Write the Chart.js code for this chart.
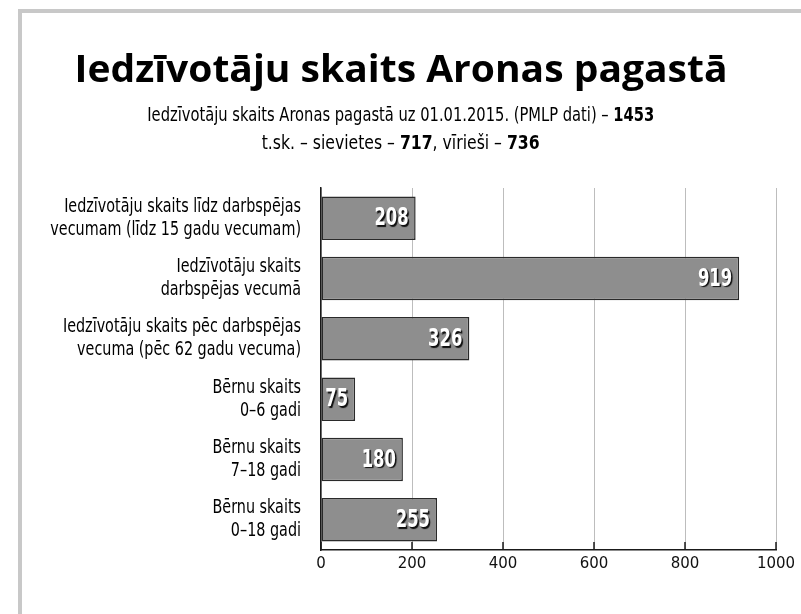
<!DOCTYPE html>
<html>
<head>
<meta charset="utf-8">
<script src="https://cdn.jsdelivr.net/npm/chart.js@4/dist/chart.umd.min.js"></script>
<style>
html,body{margin:0;padding:0;background:#fff;}
#wrap{position:relative;width:801px;height:614px;overflow:hidden;background:#fff;}
#frame{position:absolute;left:18px;top:9px;width:800px;height:620px;border-top:4px solid #c8c8c8;border-left:4px solid #c8c8c8;}
canvas{position:absolute;left:0;top:0;}
.line{position:absolute;left:0;width:801px;text-align:center;white-space:nowrap;color:#000;}
.line span.fit{display:inline-block;transform-origin:50% 50%;}
#title{top:48px;font-family:'Open Sans',sans-serif;font-weight:700;font-size:38px;line-height:38px;}
.sub{font-family:'DejaVu Sans Condensed','DejaVu Sans',sans-serif;font-size:19px;line-height:28px;}
#sub1{top:100px;}
#sub2{top:128px;}
.sub b{font-weight:700;}
</style>
</head>
<body>
<div id="wrap">
  <div id="frame"></div>
  <canvas id="c" width="801" height="614"></canvas>
  <div class="line" id="title"><span class="fit" data-w="653">Iedzīvotāju skaits Aronas pagastā</span></div>
  <div class="line sub" id="sub1"><span class="fit" data-w="507">Iedzīvotāju skaits Aronas pagastā uz 01.01.2015. (PMLP dati) – <b>1453</b></span></div>
  <div class="line sub" id="sub2"><span class="fit" data-w="278">t.sk. – sievietes – <b>717</b>, vīrieši – <b>736</b></span></div>
</div>
<script>
const categories = [
  ["Iedzīvotāju skaits līdz darbspējas", "vecumam (līdz 15 gadu vecumam)"],
  ["Iedzīvotāju skaits", "darbspējas vecumā"],
  ["Iedzīvotāju skaits pēc darbspējas", "vecuma (pēc 62 gadu vecuma)"],
  ["Bērnu skaits", "0–6 gadi"],
  ["Bērnu skaits", "7–18 gadi"],
  ["Bērnu skaits", "0–18 gadi"]
];
const values = [208, 919, 326, 75, 180, 255];
const xTickValues = [0, 200, 400, 600, 800, 1000];

function fitText() {
  document.querySelectorAll('span.fit').forEach(s => {
    const target = parseFloat(s.dataset.w);
    s.style.transform = 'none';
    const w = s.getBoundingClientRect().width;
    if (w > 0) s.style.transform = 'scaleX(' + (target / w) + ')';
  });
}

// condensed category labels drawn at the y scale's own positions
const categoryLabels = {
  id: 'categoryLabels',
  afterDraw(chart) {
    const ys = chart.scales.y;
    const ctx = chart.ctx;
    const right = ys.right - 20;
    const lh = 23;
    const sx = 0.84;
    chart.data.labels.forEach((lab, i) => {
      const lines = Array.isArray(lab) ? lab : [lab];
      const cy = ys.getPixelForValue(i);
      const y0 = cy - (lines.length - 1) * lh / 2;
      lines.forEach((t, k) => {
        ctx.save();
        ctx.translate(right, y0 + k * lh);
        ctx.scale(sx, 1);
        ctx.font = '19px "DejaVu Sans Condensed", "DejaVu Sans", sans-serif';
        ctx.textAlign = 'right';
        ctx.textBaseline = 'middle';
        ctx.fillStyle = '#000';
        ctx.fillText(t, 0, 0);
        ctx.restore();
      });
    });
  }
};

const valueLabels = {
  id: 'valueLabels',
  afterDatasetsDraw(chart) {
    const ctx = chart.ctx;
    const meta = chart.getDatasetMeta(0);
    const sx = 0.76;
    meta.data.forEach((el, i) => {
      const v = chart.data.datasets[0].data[i];
      ctx.save();
      ctx.translate(el.x - 7, el.y + 1);
      ctx.scale(sx, 1);
      ctx.font = 'bold 24px "DejaVu Sans Condensed", "DejaVu Sans", sans-serif';
      ctx.textAlign = 'right';
      ctx.textBaseline = 'middle';
      ctx.shadowColor = 'rgba(0,0,0,0.9)';
      ctx.shadowOffsetX = 1.5;
      ctx.shadowOffsetY = 1.5;
      ctx.shadowBlur = 1;
      ctx.fillStyle = '#ffffff';
      ctx.fillText(String(v), 0, 0);
      ctx.restore();
    });
  }
};

const innerTicks = {
  id: 'innerTicks',
  afterDraw(chart) {
    const xs = chart.scales.x;
    const ctx = chart.ctx;
    const bottom = chart.chartArea.bottom;
    ctx.save();
    ctx.strokeStyle = '#1a1a1a';
    ctx.lineWidth = 1.5;
    xs.ticks.forEach(t => {
      const x = xs.getPixelForValue(t.value);
      ctx.beginPath();
      ctx.moveTo(x, bottom - 8);
      ctx.lineTo(x, bottom);
      ctx.stroke();
    });
    ctx.restore();
  }
};

function draw() {
  new Chart(document.getElementById('c'), {
    type: 'bar',
    data: {
      labels: categories,
      datasets: [{
        data: values,
        backgroundColor: '#8e8e8e',
        borderColor: '#2a2a2a',
        borderWidth: 1.5,
        borderSkipped: false,
        categoryPercentage: 1,
        barPercentage: 0.72
      }]
    },
    options: {
      indexAxis: 'y',
      responsive: false,
      animation: false,
      devicePixelRatio: 1,
      layout: { padding: { top: 188, right: 25, left: 0, bottom: 0 } },
      plugins: { legend: { display: false }, tooltip: { enabled: false }, title: { display: false } },
      scales: {
        x: {
          type: 'linear',
          min: 0,
          max: 1000,
          afterBuildTicks(scale) { scale.ticks = xTickValues.map(v => ({ value: v })); },
          afterFit(scale) { scale.height = 64; },
          grid: { color: '#bdbdbd', lineWidth: 1, drawTicks: false },
          border: { display: true, color: '#1a1a1a', width: 1.5 },
          ticks: {
            padding: 5,
            color: '#111',
            font: { family: '"DejaVu Sans", sans-serif', size: 15 },
            callback: (v) => String(v)
          }
        },
        y: {
          afterFit(scale) { scale.width = 321; },
          grid: { display: false, drawTicks: false },
          border: { display: true, color: '#1a1a1a', width: 1.5 },
          ticks: { display: false }
        }
      }
    },
    plugins: [valueLabels, innerTicks, categoryLabels]
  });
}

(document.fonts ? document.fonts.ready : Promise.resolve()).then(() => { fitText(); draw(); });
</script>
</body>
</html>
